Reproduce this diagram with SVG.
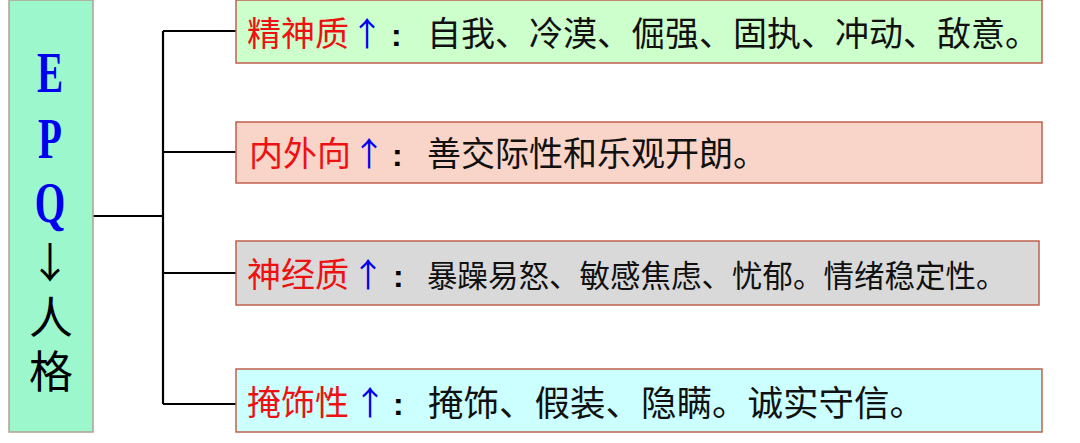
<svg xmlns="http://www.w3.org/2000/svg" width="1080" height="443" viewBox="0 0 1080 443">
<style>
.box{stroke:#c0604d;stroke-width:1.5}
.lbl{font-family:"Noto Sans CJK SC",sans-serif;font-size:34px;fill:#ee1111}
.up{font-family:"Noto Sans CJK SC",sans-serif;font-size:33px;fill:#0000ee;text-anchor:middle}
.col{font-family:"Liberation Sans",sans-serif;font-size:32px;font-weight:bold;fill:#000}
.txt{font-family:"Noto Sans CJK SC",sans-serif;font-size:34px;fill:#111}
.ln{stroke:#000;stroke-width:2.2;fill:none}
</style>
<rect width="1080" height="443" fill="#fff"/>
<g id="connectors">
<path class="ln" d="M93 216H163M163 31V404M163 31H236M163 152H236M163 273H236M163 404H236"/>
</g>
<g id="epq">
<rect x="9" y="0" width="84" height="432" fill="#9cf8cc" stroke="#b4a090" stroke-width="1.5"/>
<g font-family="Liberation Serif,serif" font-weight="bold" fill="#0000ee" text-anchor="middle">
<text transform="translate(50 92) scale(0.7 1)" font-size="56">E</text>
<text transform="translate(50 158) scale(0.7 1)" font-size="56">P</text>
<text transform="translate(50 222) scale(0.7 1)" font-size="56">Q</text>
</g>
<text x="50" y="278" font-family="Noto Sans CJK SC,sans-serif" font-size="42" text-anchor="middle" fill="#000">↓</text>
<text x="51" y="295" font-family="Noto Sans CJK SC,sans-serif" font-size="44" writing-mode="vertical-rl" letter-spacing="10" fill="#000">人格</text>
</g>
<g id="n1">
<rect class="box" x="236" y="0" width="806" height="63" fill="#ccffcc"/>
<text class="lbl" x="247" y="46">精神质</text>
<text class="up" x="367" y="46">↑</text>
<text class="col" x="391" y="46">:</text>
<text class="txt" x="427" y="46">自我、冷漠、倔强、固执、冲动、敌意。</text>
</g>
<g id="n2">
<rect class="box" x="236" y="122" width="806" height="61" fill="#f8d5c8"/>
<text class="lbl" x="249" y="166">内外向</text>
<text class="up" x="369" y="166">↑</text>
<text class="col" x="392" y="166">:</text>
<text class="txt" x="427" y="166">善交际性和乐观开朗。</text>
</g>
<g id="n3">
<rect class="box" x="236" y="241" width="803" height="64" fill="#d9d9d9"/>
<text class="lbl" x="247" y="287">神经质</text>
<text class="up" x="368" y="287">↑</text>
<text class="col" x="393" y="287">:</text>
<text class="txt" x="427" y="287" style="font-size:30.5px">暴躁易怒、敏感焦虑、忧郁。情绪稳定性。</text>
</g>
<g id="n4">
<rect class="box" x="236" y="369" width="806" height="63" fill="#ccffff" stroke="#a08878"/>
<text class="lbl" x="247" y="415">掩饰性</text>
<text class="up" x="370" y="415">↑</text>
<text class="col" x="393" y="415">:</text>
<text class="txt" x="428" y="416" style="font-size:35.5px">掩饰、假装、隐瞒。诚实守信。</text>
</g>
</svg>
